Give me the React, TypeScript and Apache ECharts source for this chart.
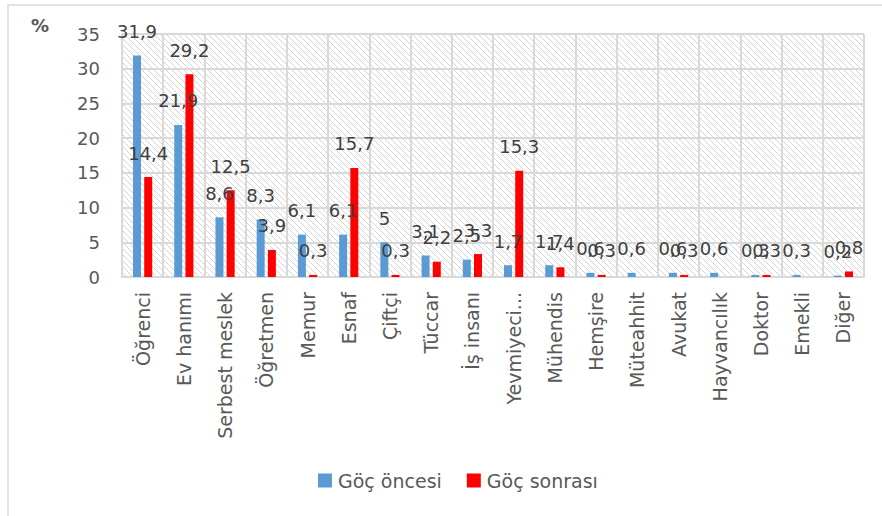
import React, { useEffect, useRef } from "react";
import * as echarts from "echarts";

const categories = [
  "Öğrenci", "Ev hanımı", "Serbest meslek", "Öğretmen", "Memur", "Esnaf", "Çiftçi", "Tüccar",
  "İş insanı", "Yevmiyeci...", "Mühendis", "Hemşire", "Müteahhit", "Avukat", "Hayvancılık",
  "Doktor", "Emekli", "Diğer",
];
const before = [31.9, 21.9, 8.6, 8.3, 6.1, 6.1, 5, 3.1, 2.5, 1.7, 1.7, 0.6, 0.6, 0.6, 0.6, 0.3, 0.3, 0.2];
const after: (number | null)[] = [14.4, 29.2, 12.5, 3.9, 0.3, 15.7, 0.3, 2.2, 3.3, 15.3, 1.4, 0.3, null, 0.3, null, 0.3, null, 0.8];
const seriesNames = ["Göç öncesi", "Göç sonrası"];
const colors = ["#5B9BD5", "#FF0000"];

const FONT = "DejaVu Sans";

function makeHatch(): HTMLCanvasElement {
  const c = document.createElement("canvas");
  c.width = 6;
  c.height = 6;
  const ctx = c.getContext("2d")!;
  ctx.fillStyle = "#ffffff";
  ctx.fillRect(0, 0, 6, 6);
  ctx.strokeStyle = "#d4d4d4";
  ctx.lineWidth = 1;
  ctx.beginPath();
  ctx.moveTo(-1, -1);
  ctx.lineTo(7, 7);
  ctx.moveTo(-4, 2);
  ctx.lineTo(4, 10);
  ctx.moveTo(2, -4);
  ctx.lineTo(10, 4);
  ctx.stroke();
  return c;
}

export default function App() {
  const ref = useRef<HTMLDivElement>(null);
  useEffect(() => {
    if (!ref.current) return;
    const chart = echarts.init(ref.current, null, { renderer: "svg" });
    const fmt = (p: any) => (p.value == null ? "" : String(p.value).replace(".", ","));
    const labelStyle = {
      show: true,
      position: "top",
      formatter: fmt,
      fontSize: 18,
      color: "#404040",
      fontFamily: FONT,
      distance: 15,
    };
    chart.setOption({
      animation: false,
      backgroundColor: "#ffffff",
      textStyle: { fontFamily: FONT },
      grid: {
        left: 122,
        right: 18,
        top: 34,
        bottom: 239,
        show: true,
        borderWidth: 0,
        backgroundColor: { image: makeHatch(), repeat: "repeat" },
      },
      legend: {
        top: 466,
        left: 313,
        itemWidth: 14,
        itemHeight: 14,
        itemGap: 25,
        icon: "rect",
        textStyle: { fontSize: 19, color: "#595959", fontFamily: FONT, padding: [0, 0, 0, 1] },
        data: seriesNames,
      },
      xAxis: {
        type: "category",
        data: categories,
        axisLine: { lineStyle: { color: "#d9d9d9", width: 2 } },
        axisTick: { show: false },
        splitLine: { show: true, interval: 0, lineStyle: { color: "#d9d9d9", width: 2 } },
        axisLabel: {
          rotate: 90,
          interval: 0,
          fontSize: 19,
          color: "#595959",
          fontFamily: FONT,
          margin: 15,
        },
      },
      yAxis: {
        type: "value",
        min: 0,
        max: 35,
        interval: 5,
        axisLine: { show: false },
        axisTick: { show: false },
        splitLine: { lineStyle: { color: "#d9d9d9", width: 2 } },
        axisLabel: { fontSize: 18, color: "#595959", fontFamily: FONT, margin: 22 },
      },
      graphic: [
        {
          type: "rect",
          shape: { x: 8, y: 5, width: 900, height: 540 },
          style: { fill: "none", stroke: "#d9d9d9", lineWidth: 1.5 },
          silent: true,
        },
        {
          type: "text",
          x: 31,
          y: 16,
          style: { text: "%", fontSize: 18, fontWeight: "bold", fill: "#595959", fontFamily: FONT },
        },
      ],
      series: [
        {
          name: seriesNames[0],
          type: "bar",
          data: before,
          barWidth: 8,
          barGap: "40%",
          itemStyle: { color: colors[0] },
          label: labelStyle,
        },
        {
          name: seriesNames[1],
          type: "bar",
          data: after,
          barWidth: 8,
          barGap: "40%",
          itemStyle: { color: colors[1] },
          label: labelStyle,
        },
      ],
    });
    return () => chart.dispose();
  }, []);
  return (
    <div
      ref={ref}
      style={{ position: "absolute", left: 0, top: 0, width: 882, height: 516 }}
    />
  );
}
